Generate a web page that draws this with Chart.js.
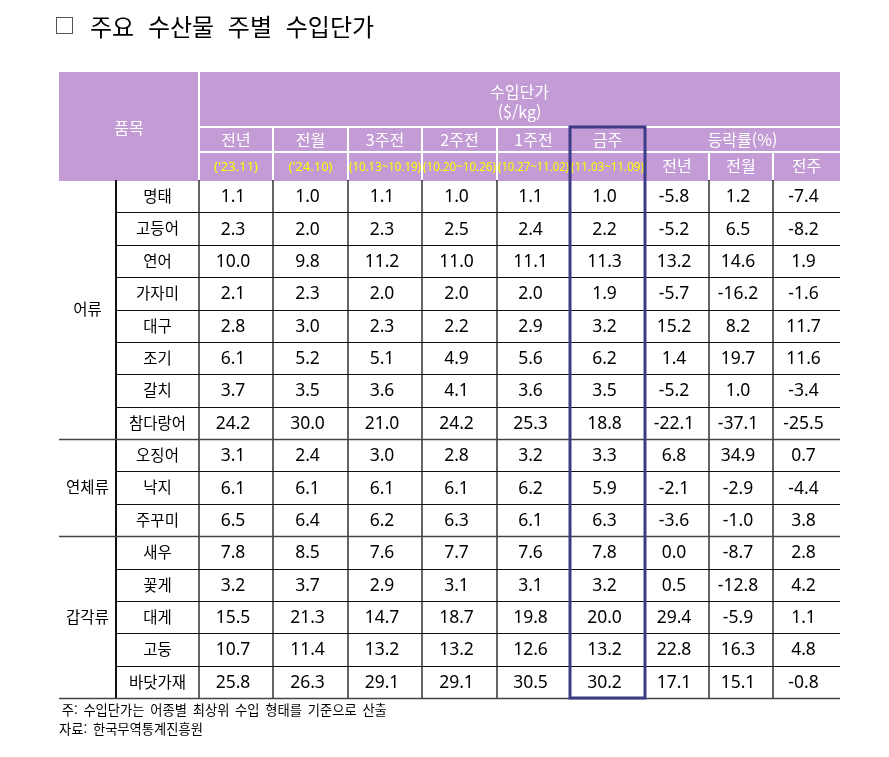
<!DOCTYPE html>
<html lang="ko">
<head>
<meta charset="utf-8">
<script src="https://cdn.jsdelivr.net/npm/chart.js@4.4.1/dist/chart.umd.min.js"></script>
<style>
  html, body { margin:0; padding:0; background:#fff; }
  body { width:889px; height:757px; position:relative; overflow:hidden; font-family:"Noto Sans CJK KR", sans-serif; color:#000; }
  canvas { position:absolute; left:0; top:0; }
  #tbox { position:absolute; left:56px; top:17px; width:15px; height:15px; border:1.5px solid #555; }
  #title { position:absolute; left:90px; top:9px; font-size:24px; line-height:34px; white-space:pre; word-spacing:7px; }
  .note { position:absolute; font-size:13.3px; line-height:18px; white-space:pre; word-spacing:2px; }
</style>
</head>
<body>
<canvas id="tbl" width="889" height="757"></canvas>
<div id="tbox"></div>
<div id="title">주요 수산물 주별 수입단가</div>
<div class="note" style="left:56px; top:701px;"> 주: 수입단가는 어종별 최상위 수입 형태를 기준으로 산출</div>
<div class="note" style="left:59px; top:720px;">자료: 한국무역통계진흥원</div>
<script>
// ---- data ----
const items = ['명태','고등어','연어','가자미','대구','조기','갈치','참다랑어','오징어','낙지','주꾸미','새우','꽃게','대게','고둥','바닷가재'];
const groups = ['어류','연체류','갑각류'];
const groupSizes = [8, 3, 5];
const priceHeads = ['전년','전월','3주전','2주전','1주전','금주'];
const periodLabels = ["('23.11)", "('24.10)", '(10.13~10.19)', '(10.20~10.26)', '(10.27~11.02)', '(11.03~11.09)'];
const changeHeads = ['전년','전월','전주'];

const prevYear  = [1.1, 2.3, 10.0, 2.1, 2.8, 6.1, 3.7, 24.2, 3.1, 6.1, 6.5, 7.8, 3.2, 15.5, 10.7, 25.8];
const prevMonth = [1.0, 2.0, 9.8, 2.3, 3.0, 5.2, 3.5, 30.0, 2.4, 6.1, 6.4, 8.5, 3.7, 21.3, 11.4, 26.3];
const week3     = [1.1, 2.3, 11.2, 2.0, 2.3, 5.1, 3.6, 21.0, 3.0, 6.1, 6.2, 7.6, 2.9, 14.7, 13.2, 29.1];
const week2     = [1.0, 2.5, 11.0, 2.0, 2.2, 4.9, 4.1, 24.2, 2.8, 6.1, 6.3, 7.7, 3.1, 18.7, 13.2, 29.1];
const week1     = [1.1, 2.4, 11.1, 2.0, 2.9, 5.6, 3.6, 25.3, 3.2, 6.2, 6.1, 7.6, 3.1, 19.8, 12.6, 30.5];
const thisWeek  = [1.0, 2.2, 11.3, 1.9, 3.2, 6.2, 3.5, 18.8, 3.3, 5.9, 6.3, 7.8, 3.2, 20.0, 13.2, 30.2];
const chgYear   = [-5.8, -5.2, 13.2, -5.7, 15.2, 1.4, -5.2, -22.1, 6.8, -2.1, -3.6, 0.0, 0.5, 29.4, 22.8, 17.1];
const chgMonth  = [1.2, 6.5, 14.6, -16.2, 8.2, 19.7, 1.0, -37.1, 34.9, -2.9, -1.0, -8.7, -12.8, -5.9, 16.3, 15.1];
const chgWeek   = [-7.4, -8.2, 1.9, -1.6, 11.7, 11.6, -3.4, -25.5, 0.7, -4.4, 3.8, 2.8, 4.2, 1.1, 4.8, -0.8];

const valueCols = [prevYear, prevMonth, week3, week2, week1, thisWeek, chgYear, chgMonth, chgWeek];

// ---- layout (x in px-like units from the table's left edge, y in body-row units) ----
const colEdges = [0, 57, 140, 214, 289, 363, 438, 511, 586, 650, 714, 781];
const HEAD_TOP = -3.336, HEAD_MID1 = -1.637, HEAD_MID2 = -0.865;
const PURPLE = '#c39bd5', NAVY = '#3b3b86', YELLOW = '#ffff00';
const NUM_FONT = '17.5px "Noto Sans", sans-serif';
const KO_FONT = '15.5px "Noto Sans CJK KR", sans-serif';
const HEAD_FONT = '16px "Noto Sans CJK KR", sans-serif';

const mid = (a, b) => (a + b) / 2;
const colCenter = k => mid(colEdges[k], colEdges[k + 1]);

const datasets = valueCols.map((vals, k) => ({
  label: k < 6 ? priceHeads[k] : changeHeads[k - 6],
  values: vals,
  data: vals.map((v, i) => ({ x: colCenter(k + 2), y: i + 0.5 })),
  pointRadius: 0, pointHoverRadius: 0, showLine: false
}));

const crisp = p => Math.round(p) + 0.5;

const tablePlugin = {
  id: 'tablePlugin',
  beforeDatasetsDraw(chart) {
    const { ctx, scales: { x, y } } = chart;
    const X = v => x.getPixelForValue(v), Y = v => y.getPixelForValue(v);
    const last = colEdges[colEdges.length - 1];
    const nRows = items.length;
    ctx.save();

    // header background
    ctx.fillStyle = PURPLE;
    ctx.fillRect(X(0), Y(HEAD_TOP), X(last) - X(0), Y(0) - Y(HEAD_TOP) + 1);

    const line = (x1, y1, x2, y2) => {
      ctx.beginPath();
      ctx.moveTo(x1, y1); ctx.lineTo(x2, y2); ctx.stroke();
    };

    // header white rules
    ctx.strokeStyle = '#fff';
    ctx.lineWidth = 2;
    line(Math.round(X(colEdges[2])), Y(HEAD_TOP), Math.round(X(colEdges[2])), Y(0));
    line(X(colEdges[2]), Math.round(Y(HEAD_MID1)), X(last), Math.round(Y(HEAD_MID1)));
    line(X(colEdges[2]), Math.round(Y(HEAD_MID2)), X(last), Math.round(Y(HEAD_MID2)));
    [3, 4, 5, 6].forEach(k => line(Math.round(X(colEdges[k])), Y(HEAD_MID1), Math.round(X(colEdges[k])), Y(0)));
    [9, 10].forEach(k => line(Math.round(X(colEdges[k])), Y(HEAD_MID2), Math.round(X(colEdges[k])), Y(0)));

    // body vertical rules
    ctx.strokeStyle = '#111';
    [1, 2, 3, 4, 5, 6, 9, 10].forEach(k => {
      ctx.lineWidth = k === 1 ? 2 : 1.3;
      line(Math.round(X(colEdges[k])), Y(0), Math.round(X(colEdges[k])), Y(nRows));
    });

    // body horizontal rules
    const groupEnds = [];
    groupSizes.reduce((acc, n) => { groupEnds.push(acc + n); return acc + n; }, 0);
    for (let i = 1; i <= nRows; i++) {
      const full = groupEnds.includes(i);
      ctx.lineWidth = full ? 1.5 : 1;
      ctx.strokeStyle = full ? '#444' : '#111';
      line(X(full ? 0 : colEdges[1]), crisp(Y(i)), X(last), crisp(Y(i)));
    }

    // header text
    ctx.textAlign = 'center';
    ctx.textBaseline = 'middle';
    ctx.fillStyle = '#fff';
    ctx.font = HEAD_FONT;
    ctx.fillText('품목', X(mid(colEdges[0], colEdges[2])), Y(mid(HEAD_TOP, 0)) + 2);
    const hx = X(mid(colEdges[2], last)), hy = Y(mid(HEAD_TOP, HEAD_MID1));
    ctx.fillText('수입단가', hx, hy - 8);
    ctx.fillText('($/kg)', hx, hy + 12);
    const r2 = Y(mid(HEAD_MID1, HEAD_MID2)), r3 = Y(mid(HEAD_MID2, 0));
    priceHeads.forEach((t, k) => ctx.fillText(t, X(colCenter(k + 2)), r2));
    ctx.fillText('등락률(%)', X(mid(colEdges[8], last)), r2);
    changeHeads.forEach((t, k) => ctx.fillText(t, X(colCenter(k + 8)), r3));
    ctx.fillStyle = YELLOW;
    ctx.font = '13px "Noto Sans", sans-serif';
    periodLabels.forEach((t, k) => {
      const w = X(colEdges[k + 3]) - X(colEdges[k + 2]) - 2;
      ctx.fillText(t, X(colCenter(k + 2)), r3 + 1, w);
    });

    // row labels
    ctx.fillStyle = '#000';
    ctx.font = KO_FONT;
    items.forEach((t, i) => ctx.fillText(t, X(colCenter(1)), Y(i + 0.5)));
    let start = 0;
    groups.forEach((g, j) => {
      ctx.fillText(g, X(colCenter(0)), Y(start + groupSizes[j] / 2));
      start += groupSizes[j];
    });
    ctx.restore();
  },
  afterDatasetsDraw(chart) {
    const { ctx, scales: { x, y } } = chart;
    ctx.save();
    ctx.font = NUM_FONT;
    ctx.fillStyle = '#000';
    ctx.textAlign = 'center';
    ctx.textBaseline = 'middle';
    chart.data.datasets.forEach((ds, k) => {
      chart.getDatasetMeta(k).data.forEach((pt, i) => {
        ctx.fillText(ds.values[i].toFixed(1), pt.x - 3, pt.y + 1);
      });
    });
    // highlight box for the current week
    ctx.strokeStyle = NAVY;
    ctx.lineWidth = 3;
    const x1 = Math.round(x.getPixelForValue(colEdges[7])), x2 = Math.round(x.getPixelForValue(colEdges[8]));
    const y1 = Math.round(y.getPixelForValue(HEAD_MID1)), y2 = Math.round(y.getPixelForValue(items.length));
    ctx.strokeRect(x1, y1, x2 - x1, y2 - y1);
    ctx.restore();
  }
};

new Chart(document.getElementById('tbl'), {
  type: 'scatter',
  data: { datasets },
  options: {
    responsive: false,
    animation: false,
    events: [],
    layout: { padding: { left: 59, right: 49, top: 72, bottom: 59 } },
    plugins: { legend: { display: false }, tooltip: { enabled: false } },
    scales: {
      x: { type: 'linear', display: false, min: 0, max: colEdges[colEdges.length - 1] },
      y: { type: 'linear', display: false, min: HEAD_TOP, max: items.length, reverse: true }
    }
  },
  plugins: [tablePlugin]
});
</script>
</body>
</html>
